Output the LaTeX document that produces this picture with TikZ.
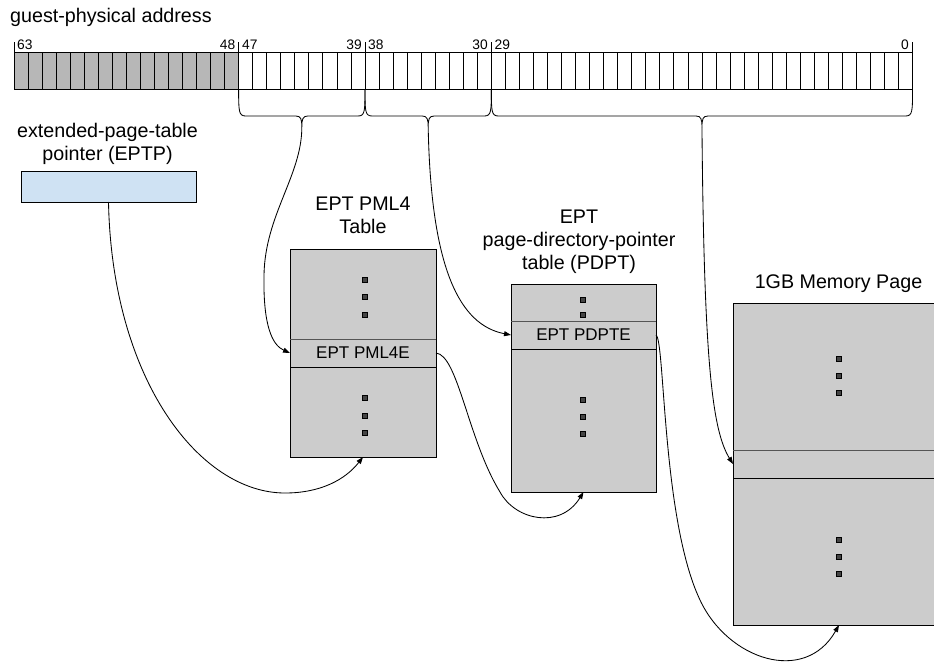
\documentclass[tikz,border=0pt]{standalone}
\usepackage{fontspec}
\setmainfont{Liberation Sans}
\usetikzlibrary{arrows.meta}
\definecolor{bitgray}{HTML}{B7B7B7}
\definecolor{tblgray}{HTML}{CCCCCC}
\definecolor{eptpblue}{HTML}{CFE2F3}
\definecolor{dotgray}{HTML}{444444}
\definecolor{rowline}{HTML}{555555}
\newcommand\titlefont{\fontsize{19.7}{23}\selectfont}
\newcommand\rowfont{\fontsize{17}{20}\selectfont}
\newcommand\bitfont{\fontsize{13.8}{15}\selectfont}
\newcommand\mybrace[3]{%
  \pgfmathsetmacro\bc{(#1+#2)/2}
  \draw[bracestyle] (#1,89) .. controls (#1,111) and (#1,116) .. ({#1+7},116) -- ({\bc-6},116) .. controls ({\bc-1},116) and (\bc,119) .. (\bc,127) .. controls (\bc,119) and ({\bc+1},116) .. ({\bc+6},116) -- ({#2-7},116) .. controls (#2,116) and (#2,111) .. (#2,89);
  \coordinate (#3) at (\bc,127);}
\begin{document}
\begin{tikzpicture}[x=1pt,y=-1pt,
  tbl/.style={draw=black, fill=tblgray, line width=0.9pt, inner sep=0pt, outer sep=0pt, anchor=north west},
  rowbox/.style={tbl, font=\rowfont},
  dotsq/.style={draw=black, fill=dotgray, minimum size=5pt, inner sep=0pt, line width=0.5pt},
  title/.style={font=\titlefont, inner sep=0pt, anchor=base},
  bitnum/.style={font=\bitfont, inner sep=0pt},
  conn/.style={line width=0.85pt, -{Triangle[length=7pt,width=5pt]}},
  bracestyle/.style={line width=0.85pt}]
\useasboundingbox (0,0) rectangle (934,667);
\clip (0,0) rectangle (934,667);

% title
\node[title, anchor=base west] (gpa) at (10,22.7) {guest-physical address};

% bit field
\fill[bitgray] (14,52) rectangle (238.64,89);
\foreach \i in {1,...,63} \draw[line width=0.8pt] ({14+\i*14.04},52) -- ({14+\i*14.04},89);
\draw[line width=0.9pt] (14,52) rectangle (912.56,89);
\foreach \xx in {14,238.64,365,491.36,912.56} \draw[line width=0.8pt] (\xx,42) -- (\xx,52);
\node[bitnum, anchor=base west] (n63) at (17,49.5) {63};
\node[bitnum, anchor=base east] (n48) at (235.5,49.5) {48};
\node[bitnum, anchor=base west] (n47) at (242,49.5) {47};
\node[bitnum, anchor=base east] (n39) at (362,49.5) {39};
\node[bitnum, anchor=base west] (n38) at (368,49.5) {38};
\node[bitnum, anchor=base east] (n30) at (488,49.5) {30};
\node[bitnum, anchor=base west] (n29) at (494.5,49.5) {29};
\node[bitnum, anchor=base east] (n0) at (909,49.5) {0};

% braces
\mybrace{238.64}{365}{b1}
\mybrace{365}{491.36}{b2}
\mybrace{491.36}{912.56}{b3}

% EPTP
\node[title] (eptpl1) at (107.5,137) {extended-page-table};
\node[title] (eptpl2) at (107.5,160) {pointer (EPTP)};
\node[tbl, fill=eptpblue, minimum width=175pt, minimum height=31pt] (eptp) at (21,171) {};

% PML4 table
\node[title] (pml4l1) at (363,210.7) {EPT PML4};
\node[title] (pml4l2) at (363,233) {Table};
\node[tbl, minimum width=146pt, minimum height=208pt] (pml4) at (290,249) {};
\node[rowbox, minimum width=146pt, minimum height=28pt] (pml4e) at (290,339) {EPT PML4E};
\draw[rowline, line width=0.9pt] (pml4e.north west) -- (pml4e.north east);
\foreach \yy [count=\k] in {280,297,315,398,416,433} \node[dotsq] (pd\k) at (365,\yy) {};

% PDPT
\node[title] (pdptl1) at (579,223.3) {EPT};
\node[title] (pdptl2) at (579,246.7) {page-directory-pointer};
\node[title] (pdptl3) at (579,269.5) {table (PDPT)};
\node[tbl, minimum width=145pt, minimum height=208pt] (pdpt) at (511,284) {};
\node[rowbox, minimum width=145pt, minimum height=28pt] (pdpte) at (511,321) {EPT PDPTE};
\draw[rowline, line width=0.9pt] (pdpte.north west) -- (pdpte.north east);
\foreach \yy [count=\k] in {300,315,400,417,434} \node[dotsq] (qd\k) at (583,\yy) {};

% 1GB memory page
\node[title] (meml) at (838.5,288) {1GB Memory Page};
\node[tbl, minimum width=212pt, minimum height=322pt] (mem) at (733,303) {};
\node[tbl, minimum width=212pt, minimum height=28pt] (memrow) at (733,450) {};
\draw[rowline, line width=0.9pt] (memrow.north west) -- (memrow.north east);
\foreach \yy [count=\k] in {359,376,393,540,557,574} \node[dotsq] (md\k) at (839,\yy) {};

% connectors
\draw[conn] (b1) .. controls (302,175) and (265,215) .. (264,275) .. controls (263,325) and (272,345) .. (pml4e.west);
\draw[conn] (b2) .. controls (431,270) and (460,325) .. (pdpte.west);
\draw[conn] (b3) .. controls (704,360) and (712,430) .. (memrow.west);
\draw[conn] (eptp.south) .. controls (112,380) and (200,493) .. (285,493) .. controls (320,493) and (345,480) .. (pml4.south);
\draw[conn] (pml4e.east) .. controls (458,355) and (468,440) .. (500,492) .. controls (515,520) and (560,530) .. (pdpt.south);
\draw[conn] (pdpte.east) .. controls (665,340) and (662,520) .. (700,600) .. controls (728,660) and (805,685) .. (mem.south);
\end{tikzpicture}
\end{document}
